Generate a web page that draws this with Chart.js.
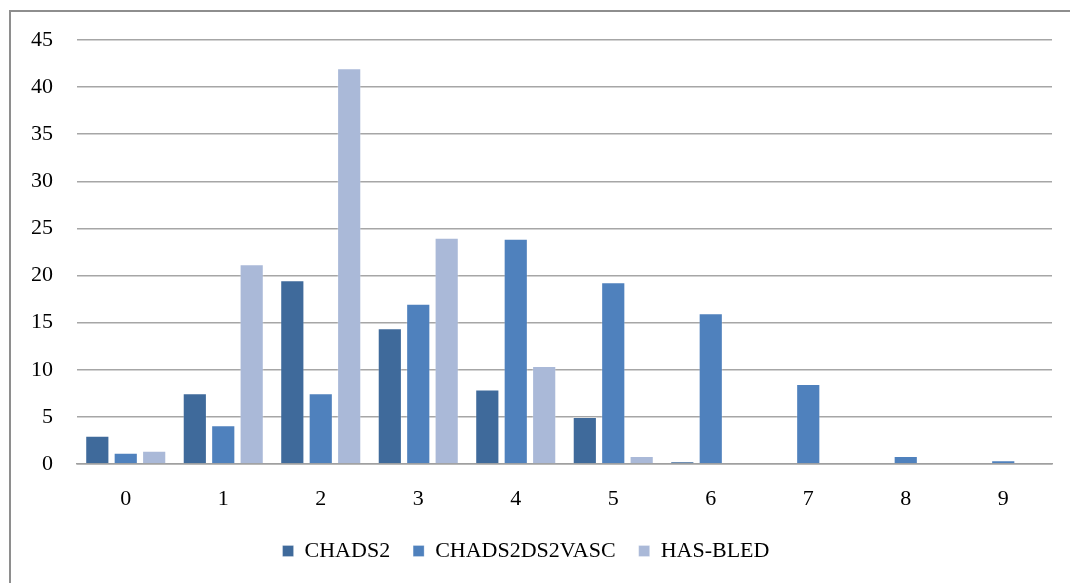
<!DOCTYPE html>
<html>
<head>
<meta charset="utf-8">
<script src="https://cdn.jsdelivr.net/npm/chart.js@4/dist/chart.umd.min.js"></script>
<style>
  html, body { margin: 0; padding: 0; background: #fff; }
  #wrap { width: 1070px; height: 583px; position: relative; }
</style>
</head>
<body>
<div id="wrap"><canvas id="myChart" width="1070" height="583"></canvas></div>
<script>
// score values 0..9
const categorias = ['0', '1', '2', '3', '4', '5', '6', '7', '8', '9'];
const chads2 = [3.0, 7.5, 19.5, 14.4, 7.9, 5.0, 0.3, 0, 0, 0];
const cha2ds2vasc = [1.2, 4.1, 7.5, 17.0, 23.9, 19.3, 16.0, 8.5, 0.85, 0.4];
const hasbled = [1.4, 21.2, 42.0, 24.0, 10.4, 0.85, 0, 0, 0, 0];
const ticksY = [0, 5, 10, 15, 20, 25, 30, 35, 40, 45];

const fuente = "'Liberation Serif', 'Times New Roman', serif";

// gray frame around the whole chart
const marco = {
    id: 'marco',
    beforeDraw(chart) {
        const c = chart.ctx;
        c.save();
        c.strokeStyle = '#8e8e8e';
        c.lineWidth = 2;
        c.strokeRect(10, 11, chart.width + 20, chart.height + 20);
        c.restore();
    }
};

const ctx = document.getElementById('myChart').getContext('2d');
const myChart = new Chart(ctx, {
    type: 'bar',
    data: {
        labels: categorias,
        datasets: [{
            label: 'CHADS2',
            data: chads2,
            backgroundColor: '#3f6a9b',
            borderColor: 'rgba(255,255,255,0.25)',
            borderWidth: 1
        }, {
            label: 'CHADS2DS2VASC',
            data: cha2ds2vasc,
            backgroundColor: '#4f81bd',
            borderColor: 'rgba(255,255,255,0.25)',
            borderWidth: 1
        }, {
            label: 'HAS-BLED',
            data: hasbled,
            backgroundColor: '#aab9d8',
            borderColor: 'rgba(255,255,255,0.25)',
            borderWidth: 1
        }]
    },
    options: {
        responsive: false,
        animation: false,
        layout: {
            padding: { left: 0, right: 18, top: 40, bottom: 11 }
        },
        datasets: {
            bar: {
                categoryPercentage: 0.875,
                barPercentage: 0.85
            }
        },
        plugins: {
            tooltip: { enabled: false },
            legend: {
                position: 'bottom',
                labels: {
                    font: { family: fuente, size: 22 },
                    color: '#000',
                    boxWidth: 11,
                    boxHeight: 11,
                    padding: 23
                }
            }
        },
        scales: {
            x: {
                grid: { display: false },
                border: { color: '#a0a0a0', width: 1.5 },
                ticks: {
                    font: { family: fuente, size: 22 },
                    color: '#000',
                    padding: 14
                },
                afterFit(scale) { scale.height = 53; }
            },
            y: {
                min: 0,
                max: 45,
                afterBuildTicks(scale) {
                    scale.ticks = ticksY.map(v => ({ value: v }));
                },
                grid: { color: '#a6a6a6', lineWidth: 1.5, drawTicks: false },
                border: { display: false },
                ticks: {
                    font: { family: fuente, size: 22 },
                    color: '#000',
                    padding: 24
                },
                afterFit(scale) { scale.width = 77; }
            }
        }
    },
    plugins: [marco]
});
</script>
</body>
</html>
